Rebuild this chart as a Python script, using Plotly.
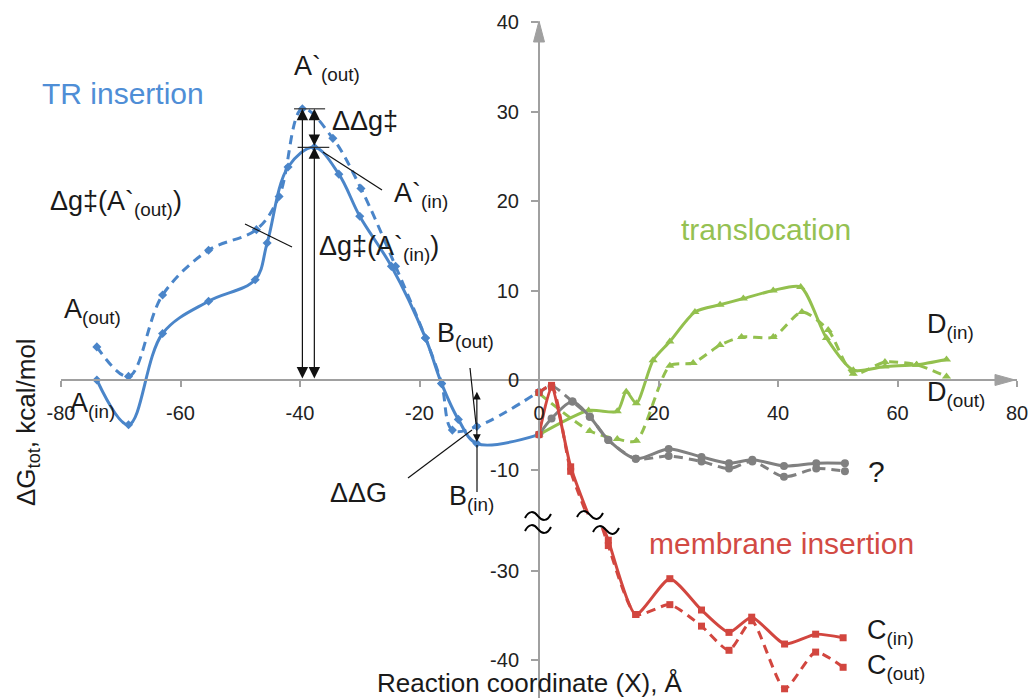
import plotly.graph_objects as go

W, H = 1031, 698

# ---------------- data (reaction coordinate X in Å, ΔG in kcal/mol) ----------------
blue_in_x = [-74, -68.7, -63, -55.3, -47.5, -45.5, -42, -37.6, -33.5, -30, -24.7, -19, -16.3, -13.5, -10.4, 0]
blue_in_y = [0, -5.0, 5.2, 8.8, 11.2, 15.3, 23.8, 26.0, 23.0, 18.3, 12.7, 4.7, -0.4, -4.4, -7.1, -6.1]
blue_out_x = [-74, -68.7, -63, -55.3, -47.3, -43.5, -39.6, -34.5, -29.8, -24, -19, -16.3, -14.5, -10.4, 0]
blue_out_y = [3.7, 0.4, 9.5, 14.5, 16.8, 20.5, 30.3, 27.0, 21.4, 12.7, 4.7, -0.4, -5.6, -5.2, -1.3]

green_in_x = [0, 8.3, 13.1, 14.6, 16.3, 19.1, 21.9, 26.1, 30.3, 34.2, 39.2, 43.8, 48.1, 52.6, 57.9, 63.2, 68.2]
green_in_y = [-6.1, -3.4, -3.5, -1.3, -2.6, 2.2, 4.3, 7.6, 8.4, 9.1, 10.0, 10.4, 4.7, 1.1, 1.5, 1.7, 2.3]
green_out_x = [0, 8.5, 13.1, 16.3, 21.9, 25.8, 30.3, 33.9, 39.2, 44.0, 48.4, 52.6, 57.9, 63.2, 68.2]
green_out_y = [-1.5, -5.7, -6.6, -6.8, 1.6, 1.9, 3.9, 4.8, 4.8, 7.6, 5.6, 0.7, 2.0, 1.7, 0.4]

gray_in_x = [0, 2.1, 5.6, 8.5, 11.6, 16.2, 21.7, 27.2, 31.8, 35.7, 41.0, 46.4, 51.2]
gray_in_y = [-6.1, -4.3, -2.4, -4.1, -6.7, -8.8, -7.7, -8.6, -9.3, -8.9, -9.6, -9.3, -9.3]
gray_out_x = [0, 2.1, 5.6, 8.5, 11.6, 16.2, 21.7, 27.2, 31.8, 35.7, 41.0, 46.4, 51.2]
gray_out_y = [-1.4, -0.7, -2.4, -4.1, -6.7, -8.8, -8.5, -9.1, -9.9, -9.1, -10.8, -9.9, -10.2]

red_in_x = [0, 2.1, 5.3, 8.5, 10.4, 11.6, 16.2, 21.9, 27.2, 31.8, 35.6, 41.1, 46.3, 50.9]
red_in_y = [-6.1, -0.8, -9.7, -15.5, -24.5, -26.6, -34.9, -30.9, -34.4, -36.9, -35.2, -38.2, -37.1, -37.5]
red_out_x = [0, 2.1, 5.3, 8.5, 10.4, 11.6, 16.2, 21.9, 27.2, 31.8, 35.6, 41.1, 46.3, 50.9]
red_out_y = [-1.4, -0.6, -10.2, -15.9, -24.8, -27.2, -34.9, -33.8, -36.2, -38.9, -35.6, -43.2, -39.1, -40.8]

x_ticks = [-80, -60, -40, -20, 0, 20, 40, 60, 80]
x_ticklabels = ["-80", "-60", "-40", "-20", "0", "20", "40", "60", "80"]
y_ticks = [40, 30, 20, 10, 0, -10, -30, -40]
y_ticklabels = ["40", "30", "20", "10", "0", "-10", "-30", "-40"]

# ---------------- broken y axis ----------------
U_CUT, L_CUT, OFFSET = -15.0, -25.2, 8.7


def reg(y):
    return "u" if y >= U_CUT else ("l" if y <= L_CUT else "g")


def to_plot(y):
    return y if y >= U_CUT else y + OFFSET


def line_path(xs, ys):
    px, py = [], []
    for i in range(len(xs)):
        x1, y1 = xs[i], ys[i]
        if i > 0:
            x0, y0 = xs[i - 1], ys[i - 1]
            r0, r1 = reg(y0), reg(y1)
            if r0 != r1:
                def cross(c):
                    return x0 + (c - y0) / (y1 - y0) * (x1 - x0)
                if y1 < y0:
                    if r0 == "u":
                        px += [cross(U_CUT), None]; py += [U_CUT, None]
                    if r1 == "l":
                        px.append(cross(L_CUT)); py.append(L_CUT + OFFSET)
                else:
                    if r0 == "l":
                        px += [cross(L_CUT), None]; py += [L_CUT + OFFSET, None]
                    if r1 == "u":
                        px.append(cross(U_CUT)); py.append(U_CUT)
        if reg(y1) != "g":
            px.append(x1); py.append(to_plot(y1))
    return px, py


BLUE, GREEN, GRAY, RED = "#4a85c9", "#93c04e", "#808080", "#d2463f"

series = [
    (blue_out_x, blue_out_y, BLUE, "9px,6px", "diamond", 7, 1.0),
    (blue_in_x, blue_in_y, BLUE, "solid", "diamond", 7, 1.0),
    (green_out_x, green_out_y, GREEN, "9px,6px", "triangle-up", 8, 0.7),
    (green_in_x, green_in_y, GREEN, "solid", "triangle-up", 8, 0.7),
    (gray_out_x, gray_out_y, GRAY, "9px,6px", "circle", 8, 0.8),
    (gray_in_x, gray_in_y, GRAY, "solid", "circle", 8, 0.8),
    (red_out_x, red_out_y, RED, "9px,6px", "square", 7, 0.6),
    (red_in_x, red_in_y, RED, "solid", "square", 7, 0.6),
]

fig = go.Figure()
for xs, ys, col, dash, sym, sz, sm in series:
    lx, ly = line_path(xs, ys)
    fig.add_trace(go.Scatter(x=lx, y=ly, mode="lines", connectgaps=False,
                             line=dict(color=col, width=3, dash=dash, shape="spline", smoothing=sm),
                             hoverinfo="skip", showlegend=False))
    mx = [x for x, y in zip(xs, ys) if reg(y) != "g"]
    my = [to_plot(y) for y in ys if reg(y) != "g"]
    fig.add_trace(go.Scatter(x=mx, y=my, mode="markers",
                             marker=dict(color=col, symbol=sym, size=sz),
                             showlegend=False))


def P(xp, yp):
    return xp / W, 1 - yp / H


FONT = "Liberation Sans, Arial, sans-serif"
TXT = "#1a1a1a"
annotations = []


def label(text, xl, yc, size=27, color=TXT, anchor="left"):
    x, y = P(xl, yc)
    annotations.append(dict(text=text, x=x, y=y, xref="paper", yref="paper",
                            xanchor=anchor, yanchor="middle", showarrow=False,
                            font=dict(family=FONT, size=size, color=color)))


label("TR insertion", 40, 94, 30, "#4f8ed6")
label("translocation", 679, 229, 30, "#95c152")
label("membrane insertion", 647, 543, 30, "#d24a44")
label("A`<sub>(out)</sub>", 292, 68)
label("ΔΔg‡", 330, 121)
label("A`<sub>(in)</sub>", 392, 195)
label("Δg‡(A`<sub>(out)</sub>)", 48, 203)
label("Δg‡(A`<sub>(in)</sub>)", 317, 248)
label("A<sub>(out)</sub>", 62, 311)
label("A<sub>(in)</sub>", 68, 405)
label("B<sub>(out)</sub>", 435, 335)
label("ΔΔG", 328, 493)
label("B<sub>(in)</sub>", 447, 498)
label("D<sub>(in)</sub>", 925, 326)
label("D<sub>(out)</sub>", 925, 394)
label("?", 876, 471, 30, TXT, "center")
label("C<sub>(in)</sub>", 865, 632)
label("C<sub>(out)</sub>", 865, 667)
label("Reaction coordinate (X), Å", 375, 683, 26)

# y-axis title (rotated)
yx, yy = P(27, 422)
annotations.append(dict(text="ΔG<sub>tot</sub>, kcal/mol", x=yx, y=yy, xref="paper", yref="paper",
                        xanchor="center", yanchor="middle", textangle=-90, showarrow=False,
                        font=dict(family=FONT, size=26, color=TXT)))

# barrier arrows tied to the peaks of the TR-insertion curves
io = blue_out_y.index(max(blue_out_y))
ii = blue_in_y.index(max(blue_in_y))
xo_pk, yo_pk = blue_out_x[io], blue_out_y[io]
xi_pk, yi_pk = blue_in_x[ii], blue_in_y[ii]
imin = blue_in_y.index(min(blue_in_y[5:]))


def darrow(x0, y0, x1, y1, size=1.9):
    annotations.append(dict(x=x1, y=y1, ax=x0, ay=y0, xref="x", yref="y", axref="x", ayref="y",
                            text="", showarrow=True, arrowside="end+start",
                            arrowhead=2, startarrowhead=2, arrowsize=size, startarrowsize=size,
                            arrowwidth=1.2, arrowcolor="#111"))


darrow(xo_pk, 0, xo_pk, yo_pk)
darrow(xi_pk, 0, xi_pk, yi_pk)
darrow(xi_pk, yi_pk, xi_pk, yo_pk)
darrow(blue_in_x[imin], blue_in_y[imin], blue_in_x[imin], blue_out_y[imin], 1.3)

shapes = []
# horizontal bars at the barrier tops
shapes.append(dict(type="line", xref="x", yref="y", x0=xo_pk - 1.4, x1=xi_pk + 1.8, y0=yo_pk, y1=yo_pk,
                   line=dict(color="#333", width=1.2)))
shapes.append(dict(type="line", xref="x", yref="y", x0=xo_pk - 0.8, x1=xi_pk + 2.5, y0=yi_pk, y1=yi_pk,
                   line=dict(color="#333", width=1.2)))


def pline(x0, y0, x1, y1, color="#111", width=1.2):
    a, b = P(x0, y0)
    c, d = P(x1, y1)
    shapes.append(dict(type="line", xref="paper", yref="paper", x0=a, y0=b, x1=c, y1=d,
                       line=dict(color=color, width=width)))


pline(323, 152, 382, 190)   # A`(in) leader
pline(245, 224, 292, 247)   # Δg‡(A`(out)) leader
pline(408, 478, 472, 430)   # ΔΔG leader
pline(470, 368, 476, 424)   # B(out) leader
pline(477, 445, 477, 492)   # B(in) leader


def fmt(x, y):
    a, b = P(x, y)
    return "%.5f,%.5f" % (a, b)


def triangle(p1, p2, p3):
    return "M%s L%s L%s Z" % (fmt(*p1), fmt(*p2), fmt(*p3))


AX = "#a0a0a0"
# axis arrowheads
shapes.append(dict(type="path", xref="paper", yref="paper",
                   path=triangle((539, 21), (533.5, 42), (544.5, 42)),
                   fillcolor=AX, line=dict(color=AX, width=1)))
shapes.append(dict(type="path", xref="paper", yref="paper",
                   path=triangle((1015, 380), (995, 374.5), (995, 385.5)),
                   fillcolor=AX, line=dict(color=AX, width=1)))


# axis-break squiggles
def tilde(cx, cy):
    return "M%s C%s %s %s C%s %s %s" % (
        fmt(cx - 13, cy + 2), fmt(cx - 9, cy - 6), fmt(cx - 4, cy - 5), fmt(cx, cy),
        fmt(cx + 4, cy + 5), fmt(cx + 9, cy + 6), fmt(cx + 13, cy - 2))


for cx, cy in [(538, 516), (538, 529), (590, 515), (606, 530)]:
    shapes.append(dict(type="path", xref="paper", yref="paper", path=tilde(cx, cy),
                       line=dict(color="#000", width=2)))

fig.update_layout(
    width=W, height=H,
    margin=dict(l=0, r=0, t=0, b=0, autoexpand=False),
    paper_bgcolor="white", plot_bgcolor="white",
    showlegend=False,
    font=dict(family=FONT, color=TXT),
    xaxis=dict(domain=[61 / W, 1017 / W], range=[-80, 80], anchor="free", position=1 - 380 / H,
               showline=True, linecolor=AX, linewidth=2, showgrid=False, zeroline=False,
               ticks="outside", ticklen=6, tickwidth=1.5, tickcolor=AX,
               tickvals=x_ticks, ticktext=x_ticklabels, ticklabelstandoff=9,
               tickfont=dict(family=FONT, size=20, color="#222"), automargin=False),
    yaxis=dict(domain=[0, 1 - 22 / H], range=[-(H - 380) / 8.95, 40], anchor="free", position=539 / W,
               showline=True, linecolor=AX, linewidth=2, showgrid=False, zeroline=False,
               ticks="outside", ticklen=7, tickwidth=1.5, tickcolor=AX,
               tickvals=[to_plot(v) for v in y_ticks], ticktext=y_ticklabels, ticklabelstandoff=8,
               tickfont=dict(family=FONT, size=20, color="#222"), automargin=False),
    annotations=annotations,
    shapes=shapes,
)

fig.write_html("out.html")
